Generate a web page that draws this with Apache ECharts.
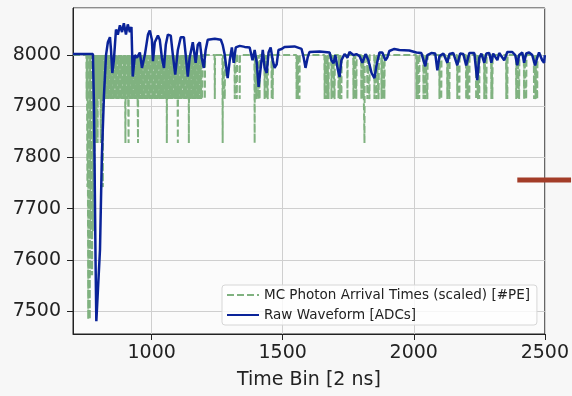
<!DOCTYPE html>
<html>
<head>
<meta charset="utf-8">
<script src="https://cdn.jsdelivr.net/npm/echarts@6/dist/echarts.min.js"></script>
<style>
  html, body { margin: 0; padding: 0; background: #f7f7f7; }
  #chart { width: 572px; height: 396px; }
</style>
</head>
<body>
<div id="chart"></div>
<script>
// Raw waveform samples: time bin and ADC value
const waveTime = [
  700, 776, 780, 786, 789, 795, 803, 810, 818, 826, 833, 841, 845, 850, 856, 864, 871, 879, 887, 894,
  902, 909, 917, 923, 928, 936, 944, 955, 963, 974, 986, 993, 1001, 1005, 1012, 1024, 1031, 1039, 1047, 1054,
  1062, 1073, 1081, 1090, 1100, 1111, 1123, 1130, 1138, 1145, 1157, 1168, 1176, 1184, 1191, 1199, 1206, 1214, 1241, 1264,
  1271, 1279, 1290, 1298, 1306, 1313, 1321, 1336, 1355, 1374, 1385, 1393, 1401, 1408, 1416, 1424, 1431, 1439, 1446, 1454,
  1462, 1469, 1477, 1484, 1496, 1507, 1545, 1572, 1580, 1587, 1595, 1602, 1641, 1679, 1686, 1694, 1701, 1709, 1717, 1724,
  1736, 1747, 1755, 1770, 1781, 1793, 1804, 1816, 1827, 1839, 1850, 1858, 1869, 1880, 1892, 1899, 1907, 1926, 1945, 1983,
  2010, 2029, 2037, 2044, 2052, 2067, 2082, 2090, 2098, 2113, 2128, 2136, 2151, 2166, 2177, 2189, 2200, 2212, 2231, 2242,
  2250, 2258, 2269, 2277, 2288, 2296, 2303, 2319, 2326, 2345, 2357, 2376, 2387, 2395, 2402, 2414, 2421, 2429, 2440, 2452,
  2463, 2471, 2478, 2490, 2497, 2500
];
const waveADC = [
  8002, 8002, 7900, 7600, 7480, 7480, 7620, 7800, 7920, 8000, 8025, 8035, 8010, 7965, 7990, 8050, 8040, 8058, 8045, 8062,
  8040, 8060, 8045, 8055, 7958, 8000, 7995, 8005, 7975, 8000, 8040, 8048, 8030, 7988, 8025, 8038, 8030, 7995, 7975, 8020,
  8040, 8038, 8000, 7962, 8010, 8035, 8035, 8000, 7958, 7995, 8025, 7985, 8020, 8025, 7995, 7975, 8010, 8030, 8032, 8030,
  8020, 8000, 7955, 7990, 8015, 7985, 8015, 8018, 8016, 8015, 7990, 8010, 7985, 7938, 7975, 8010, 7975, 7965, 8005, 8015,
  7990, 7975, 7982, 8010, 8012, 8016, 8017, 8012, 7995, 7975, 7995, 8006, 8007, 8005, 7990, 7984, 8000, 7975, 7957, 7990,
  8002, 7995, 8006, 8000, 8002, 7998, 7985, 8002, 7990, 7965, 7955, 7980, 8005, 8005, 7990, 7995, 8008, 8012, 8010, 8009,
  8005, 8004, 7990, 7978, 8000, 8004, 8003, 7970, 7998, 8003, 7985, 8002, 8004, 7980, 8003, 8002, 7980, 8004, 8004, 7951,
  7995, 8003, 7985, 8003, 8004, 7985, 8003, 7990, 8004, 7990, 8006, 8006, 8000, 7980, 8000, 8005, 7985, 8003, 8005, 8000,
  7980, 7995, 8005, 7990, 7985, 8000
];

// MC photon arrivals: time bin and photo-electron count
const photonTime = [
  752, 755, 758, 761, 764, 767, 770, 773, 776, 779, 782, 785, 788, 791, 794, 797, 800, 803, 806, 810,
  814, 818, 822, 826, 830, 834, 838, 842, 846, 850, 854, 858, 862, 866, 870, 874, 878, 882, 886, 890,
  894, 897, 900, 904, 908, 912, 916, 920, 924, 928, 932, 936, 940, 944, 948, 952, 956, 960, 964, 968,
  972, 976, 980, 984, 988, 992, 996, 1000, 1004, 1008, 1012, 1016, 1020, 1024, 1028, 1032, 1036, 1040, 1044, 1048,
  1052, 1056, 1058, 1062, 1066, 1070, 1074, 1078, 1082, 1086, 1090, 1094, 1097, 1100, 1104, 1108, 1112, 1116, 1120, 1124,
  1128, 1132, 1136, 1140, 1142, 1145, 1149, 1153, 1157, 1161, 1165, 1169, 1173, 1177, 1181, 1185, 1189, 1193, 1203, 1241,
  1271, 1279, 1317, 1325, 1336, 1393, 1400, 1408, 1412, 1431, 1436, 1443, 1458, 1462, 1553, 1558, 1564, 1660, 1665, 1670,
  1675, 1686, 1692, 1698, 1713, 1718, 1724, 1747, 1770, 1776, 1781, 1800, 1806, 1812, 1823, 1831, 1850, 1858, 1866, 1877,
  1884, 1888, 2010, 2016, 2021, 2037, 2044, 2052, 2098, 2105, 2128, 2136, 2166, 2174, 2200, 2206, 2212, 2238, 2245, 2250,
  2269, 2277, 2296, 2300, 2353, 2357, 2391, 2396, 2402, 2421, 2429, 2459, 2465, 2471
];
const photonPE = [
  1, 3, 6, 5, 6, 4, 5, 5, 4, 2, 3, 2, 2, 1, 2, 1, 1, 1, 2, 1,
  3, 1, 1, 1, 1, 1, 1, 1, 1, 1, 1, 1, 1, 1, 1, 1, 1, 1, 1, 1,
  1, 1, 2, 1, 1, 2, 1, 1, 1, 1, 1, 1, 1, 1, 2, 1, 1, 1, 1, 1,
  1, 1, 1, 1, 1, 1, 1, 1, 1, 1, 1, 1, 1, 1, 1, 1, 1, 1, 1, 1,
  1, 1, 2, 1, 1, 1, 1, 1, 1, 1, 1, 1, 1, 2, 1, 1, 1, 1, 1, 1,
  1, 1, 1, 1, 2, 1, 1, 1, 1, 1, 1, 1, 1, 1, 1, 1, 1, 1, 1, 1,
  2, 1, 1, 1, 1, 2, 1, 1, 1, 1, 1, 1, 1, 1, 1, 1, 1, 1, 1, 1,
  1, 1, 1, 1, 1, 1, 1, 1, 1, 1, 1, 1, 1, 2, 1, 1, 1, 1, 1, 1,
  1, 1, 1, 1, 1, 1, 1, 1, 1, 1, 1, 1, 1, 1, 1, 1, 1, 1, 1, 1,
  1, 1, 1, 1, 1, 1, 1, 1, 1, 1, 1, 1, 1, 1
];

// Scaling of photon counts onto the ADC axis
const baselineADC = 8000;
const adcPerPE = 86;

// Level segment running past the right edge of the axes
const levelTime = [2395, 2600];
const levelADC = [7756, 7756];

const waveData = waveTime.map((t, i) => [t, waveADC[i]]);

const photonData = [[700, baselineADC]];
photonTime.forEach((t, i) => {
  photonData.push([t - 1, baselineADC]);
  photonData.push([t, baselineADC - adcPerPE * photonPE[i]]);
  photonData.push([t + 1, baselineADC]);
});
photonData.push([2500, baselineADC]);

const levelData = levelTime.map((t, i) => [t, levelADC[i]]);

const FONT = 'DejaVu Sans';
const INK = '#222';
const plainNumber = v => String(v);

const chart = echarts.init(document.getElementById('chart'), null, { renderer: 'canvas' });

chart.setOption({
  animation: false,
  backgroundColor: '#f7f7f7',
  textStyle: { fontFamily: FONT },
  grid: {
    left: 73, right: 25, top: 8, bottom: 62,
    show: true,
    backgroundColor: '#fbfbfb',
    borderColor: INK,
    borderWidth: 1
  },
  xAxis: {
    type: 'value',
    min: 700, max: 2500,
    splitNumber: 4,
    name: 'Time Bin [2 ns]',
    nameLocation: 'middle',
    nameGap: 37,
    nameTextStyle: { fontFamily: FONT, fontSize: 19, color: INK },
    axisLine: { show: true, onZero: false, lineStyle: { color: INK, width: 1 } },
    axisTick: { show: true, length: 6, lineStyle: { color: INK } },
    axisLabel: { fontFamily: FONT, fontSize: 19, color: INK, margin: 10, showMinLabel: false, formatter: plainNumber },
    splitLine: { show: true, lineStyle: { color: '#cfcfcf', width: 1 } }
  },
  yAxis: {
    type: 'value',
    min: 7455, max: 8092,
    splitNumber: 5,
    axisLine: { show: true, onZero: false, lineStyle: { color: INK, width: 1 } },
    axisTick: { show: true, length: 6, lineStyle: { color: INK } },
    axisLabel: { fontFamily: FONT, fontSize: 19, color: INK, margin: 12, showMinLabel: false, showMaxLabel: false, formatter: plainNumber },
    splitLine: { show: true, lineStyle: { color: '#cfcfcf', width: 1 } }
  },
  legend: {
    data: ['MC Photon Arrival Times (scaled) [#PE]', 'Raw Waveform [ADCs]'],
    orient: 'vertical',
    left: 222, top: 285,
    padding: [3, 7, 3, 4],
    itemWidth: 32, itemHeight: 14, itemGap: 6,
    itemStyle: { opacity: 0 },
    backgroundColor: 'rgba(255,255,255,0.8)',
    borderColor: '#d6d6d6', borderWidth: 1, borderRadius: 3,
    textStyle: { fontFamily: FONT, fontSize: 13.5, color: INK }
  },
  series: [
    {
      name: 'MC Photon Arrival Times (scaled) [#PE]',
      type: 'line',
      data: photonData,
      showSymbol: false, symbol: 'none',
      color: '#80b280',
      lineStyle: { color: '#80b280', width: 2, type: [7, 3] },
      z: 2
    },
    {
      name: 'Raw Waveform [ADCs]',
      type: 'line',
      data: waveData,
      showSymbol: false, symbol: 'none',
      color: '#0a2399',
      lineStyle: { color: '#0a2399', width: 2.5 },
      z: 3
    },
    {
      name: 'level',
      type: 'custom',
      clip: false,
      data: [levelData[0].concat(levelData[1])],
      renderItem: (params, api) => {
        const a = api.coord([api.value(0), api.value(1)]);
        const b = api.coord([api.value(2), api.value(3)]);
        return {
          type: 'line',
          shape: { x1: a[0], y1: a[1], x2: b[0], y2: b[1] },
          style: { stroke: '#a33d28', lineWidth: 5 }
        };
      },
      z: 1
    }
  ]
});
</script>
</body>
</html>
